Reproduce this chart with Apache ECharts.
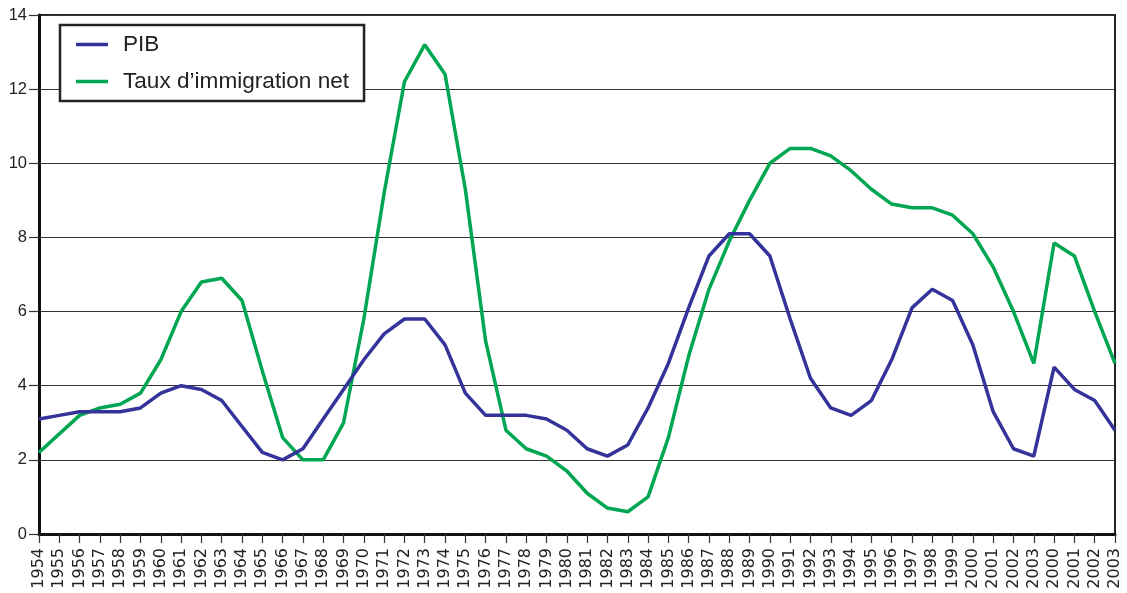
<!DOCTYPE html>
<html><head><meta charset="utf-8">
<script src="https://cdn.jsdelivr.net/npm/echarts@6/dist/echarts.min.js"></script>
<style>html,body{margin:0;padding:0;background:#fff}#c{width:1127px;height:593px}</style>
</head><body><div id="c"></div>
<script>
var categories = ['1954','1955','1956','1957','1958','1959','1960','1961','1962','1963','1964','1965','1966','1967','1968','1969','1970','1971','1972','1973','1974','1975','1976','1977','1978','1979','1980','1981','1982','1983','1984','1985','1986','1987','1988','1989','1990','1991','1992','1993','1994','1995','1996','1997','1998','1999','2000','2001','2002','2003','2000','2001','2002','2003'];
var pib = [3.1,3.2,3.3,3.3,3.3,3.4,3.8,4.0,3.9,3.6,2.9,2.2,2.0,2.3,3.1,3.9,4.7,5.4,5.8,5.8,5.1,3.8,3.2,3.2,3.2,3.1,2.8,2.3,2.1,2.4,3.4,4.6,6.1,7.5,8.1,8.1,7.5,5.8,4.2,3.4,3.2,3.6,4.7,6.1,6.6,6.3,5.1,3.3,2.3,2.1,4.5,3.9,3.6,2.8];
var immigration = [2.2,2.7,3.2,3.4,3.5,3.8,4.7,6.0,6.8,6.9,6.3,4.4,2.6,2.0,2.0,3.0,5.8,9.2,12.2,13.2,12.4,9.3,5.2,2.8,2.3,2.1,1.7,1.1,0.7,0.6,1.0,2.6,4.8,6.6,7.9,9.0,10.0,10.4,10.4,10.2,9.8,9.3,8.9,8.8,8.8,8.6,8.1,7.2,6.0,4.6,7.85,7.5,6.0,4.6];
var seriesNames = ['PIB', 'Taux d\u2019immigration net'];

var chart = echarts.init(document.getElementById('c'), null, {renderer:'canvas'});
var font = 'Liberation Sans, Arial, Helvetica, sans-serif';
chart.setOption({
  animation: false,
  backgroundColor: '#fff',
  grid: {left: 39, right: 12, top: 15, bottom: 59, show: true, borderColor: '#222', borderWidth: 2, backgroundColor: 'transparent'},
  legend: {
    orient: 'vertical', left: 60, top: 25,
    backgroundColor: '#fff', borderColor: '#222', borderWidth: 2.5,
    padding: [8, 15, 8, 16], itemGap: 14, itemWidth: 32, itemHeight: 3.5,
    icon: 'rect',
    textStyle: {fontFamily: font, fontSize: 22.6, color: '#222', padding: [0, 0, 0, 10]},
    data: seriesNames
  },
  xAxis: {
    type: 'category', data: categories, boundaryGap: false,
    axisLine: {lineStyle: {color: '#111', width: 3}},
    axisTick: {show: true, length: 9, interval: 0, lineStyle: {color: '#333', width: 1.2}},
    axisLabel: {interval: 0, rotate: 90, fontFamily: 'DejaVu Sans, sans-serif', fontSize: 16, color: '#222', margin: 14},
    splitLine: {show: false}
  },
  yAxis: {
    type: 'value', min: 0, max: 14, interval: 2,
    axisLine: {show: true, lineStyle: {color: '#111', width: 3}},
    axisTick: {show: true, length: 10, lineStyle: {color: '#333', width: 1.2}},
    axisLabel: {fontFamily: font, fontSize: 16.5, color: '#222', margin: 12},
    splitLine: {show: true, lineStyle: {color: '#333', width: 1.2}}
  },
  series: [
    {name: seriesNames[0], type: 'line', data: pib, showSymbol: false, symbol: 'none', lineStyle: {color: '#333399', width: 3.5}, itemStyle: {color: '#333399'}, z: 3},
    {name: seriesNames[1], type: 'line', data: immigration, showSymbol: false, symbol: 'none', lineStyle: {color: '#00a651', width: 3.5}, itemStyle: {color: '#00a651'}, z: 2}
  ]
});
</script></body></html>
